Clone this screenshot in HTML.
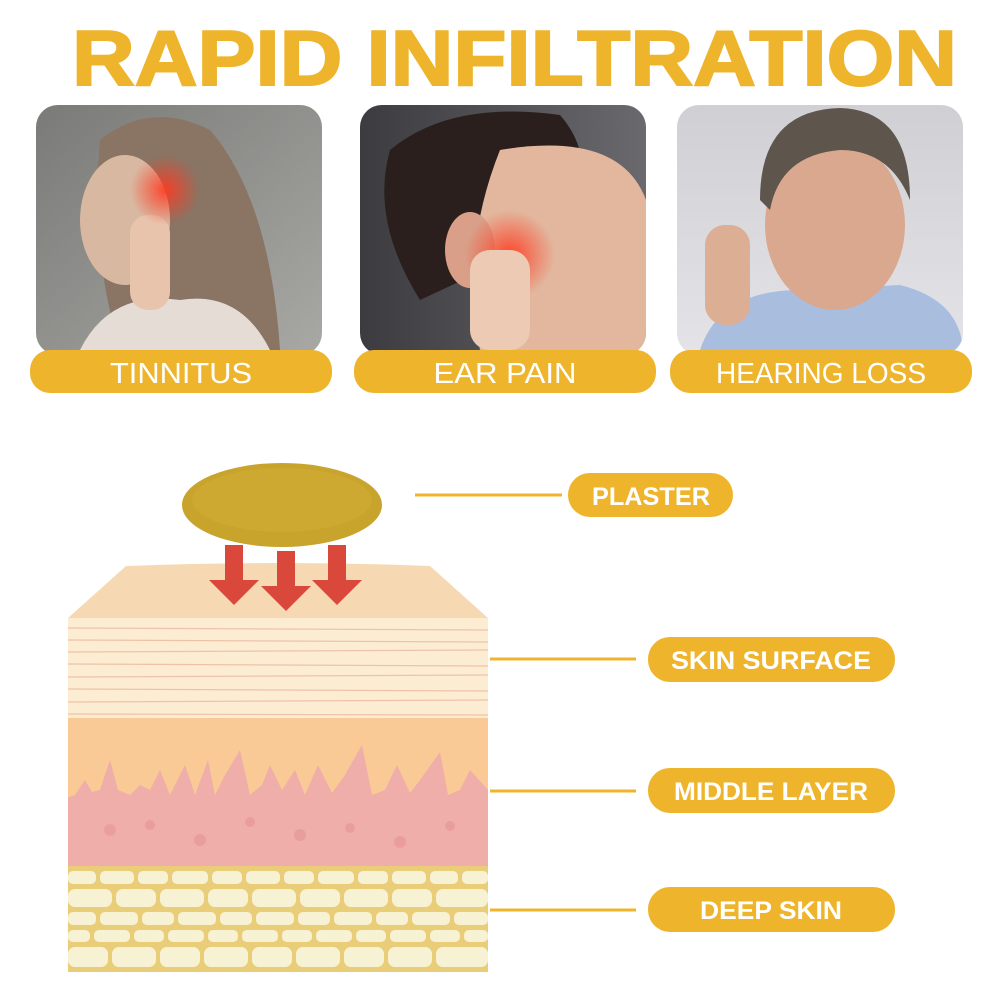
<!DOCTYPE html><html><head><style>body{margin:0;background:#fff}svg{display:block}</style></head><body>
<svg width="1002" height="1002" viewBox="0 0 1002 1002" xmlns="http://www.w3.org/2000/svg" font-family="Liberation Sans, sans-serif">
<defs>
<linearGradient id="g1" x1="0" y1="0" x2="1" y2="1"><stop offset="0" stop-color="#7a7a78"/><stop offset="1" stop-color="#a8a8a4"/></linearGradient>
<linearGradient id="g2" x1="0" y1="0" x2="1" y2="0"><stop offset="0" stop-color="#3c3c40"/><stop offset="1" stop-color="#6a6a6e"/></linearGradient>
<linearGradient id="g3" x1="0" y1="0" x2="0" y2="1"><stop offset="0" stop-color="#cfcfd4"/><stop offset="1" stop-color="#e4e4e8"/></linearGradient>
<radialGradient id="red"><stop offset="0" stop-color="#ff3a20" stop-opacity=".9"/><stop offset="1" stop-color="#ff3a20" stop-opacity="0"/></radialGradient>
<clipPath id="c1"><rect x="36" y="105" width="286" height="250" rx="22"/></clipPath>
<clipPath id="c2"><rect x="360" y="105" width="286" height="250" rx="22"/></clipPath>
<clipPath id="c3"><rect x="677" y="105" width="286" height="250" rx="22"/></clipPath>
<clipPath id="blk"><path d="M126 566 Q280 560 430 566 L488 618 L488 972 L68 972 L68 618 Z"/></clipPath>
</defs>
<text x="72" y="85" font-size="78" font-weight="bold" fill="#eeb52c" stroke="#eeb52c" stroke-width="2" textLength="885" lengthAdjust="spacingAndGlyphs">RAPID INFILTRATION</text>
<g clip-path="url(#c1)">
<rect x="36" y="105" width="286" height="250" fill="url(#g1)"/>
<path d="M100 140 Q150 100 210 130 Q270 200 280 350 L120 350 Q90 250 100 140Z" fill="#8a7464"/>
<ellipse cx="125" cy="220" rx="45" ry="65" fill="#d9b8a2"/>
<path d="M80 350 Q110 290 180 300 Q240 290 270 350Z" fill="#e6dcd6"/>
<rect x="130" y="215" width="40" height="95" rx="18" fill="#e8c4ac"/>
<circle cx="165" cy="190" r="35" fill="url(#red)"/>
</g>
<g clip-path="url(#c2)">
<rect x="360" y="105" width="286" height="250" fill="url(#g2)"/>
<path d="M390 150 Q450 100 560 115 Q600 160 570 230 L420 300 Q370 220 390 150Z" fill="#2a1f1c"/>
<path d="M500 150 Q620 130 646 200 L646 350 L480 350 Q460 250 500 150Z" fill="#e2b79e"/>
<ellipse cx="470" cy="250" rx="25" ry="38" fill="#d99f88"/>
<circle cx="510" cy="255" r="45" fill="url(#red)"/>
<rect x="470" y="250" width="60" height="100" rx="20" fill="#eccab4"/>
</g>
<g clip-path="url(#c3)">
<rect x="677" y="105" width="286" height="250" fill="url(#g3)"/>
<path d="M700 350 Q720 290 800 290 L900 285 Q960 300 963 350Z" fill="#a9bddf"/>
<ellipse cx="835" cy="225" rx="70" ry="85" fill="#d9a88e"/>
<path d="M760 200 Q760 110 840 108 Q910 110 910 200 Q890 150 840 150 Q780 155 770 210Z" fill="#5e554c"/>
<rect x="705" y="225" width="45" height="100" rx="20" fill="#dcae94"/>
</g>
<g fill="#eeb52c">
<rect x="30" y="350" width="302" height="43" rx="20"/>
<rect x="354" y="350" width="302" height="43" rx="20"/>
<rect x="670" y="350" width="302" height="43" rx="20"/>
</g>
<g fill="#fff" font-size="29" text-anchor="middle">
<text x="181" y="383" textLength="142" lengthAdjust="spacingAndGlyphs">TINNITUS</text>
<text x="505" y="383" textLength="143" lengthAdjust="spacingAndGlyphs">EAR PAIN</text>
<text x="821" y="383" textLength="210" lengthAdjust="spacingAndGlyphs">HEARING LOSS</text>
</g>
<g clip-path="url(#blk)">
<rect x="60" y="560" width="440" height="60" fill="#f6d9b2"/>
<rect x="60" y="618" width="440" height="102" fill="#fcecd2"/>
<g stroke="#eec2a8" stroke-width="1.2">
<line x1="68" y1="628" x2="488" y2="630"/><line x1="68" y1="640" x2="488" y2="642"/><line x1="68" y1="652" x2="488" y2="650"/><line x1="68" y1="664" x2="488" y2="666"/><line x1="68" y1="677" x2="488" y2="675"/><line x1="68" y1="689" x2="488" y2="691"/><line x1="68" y1="702" x2="488" y2="700"/><line x1="68" y1="714" x2="488" y2="715"/>
</g>
<rect x="60" y="718" width="440" height="100" fill="#f9c996"/>
<path d="M60 800 L75 795 L85 780 L92 792 L100 790 L110 760 L118 790 L130 795 L140 785 L150 790 L160 770 L170 795 L185 765 L195 795 L208 760 L215 795 L225 775 L240 750 L250 795 L262 785 L270 765 L282 790 L295 770 L305 795 L318 765 L332 793 L345 775 L362 745 L372 795 L385 790 L397 765 L410 793 L420 780 L440 752 L448 795 L460 790 L470 770 L488 790 L500 790 L500 870 L60 870Z" fill="#efaeaa"/>
<g fill="#e58f92" opacity=".5"><circle cx="110" cy="830" r="6"/><circle cx="150" cy="825" r="5"/><circle cx="200" cy="840" r="6"/><circle cx="250" cy="822" r="5"/><circle cx="300" cy="835" r="6"/><circle cx="350" cy="828" r="5"/><circle cx="400" cy="842" r="6"/><circle cx="450" cy="826" r="5"/></g>
<rect x="60" y="866" width="440" height="110" fill="#e9cd79"/>
<g fill="#f8f2d4">
<rect x="68" y="871" width="28" height="13" rx="5"/><rect x="100" y="871" width="34" height="13" rx="5"/><rect x="138" y="871" width="30" height="13" rx="5"/><rect x="172" y="871" width="36" height="13" rx="5"/><rect x="212" y="871" width="30" height="13" rx="5"/><rect x="246" y="871" width="34" height="13" rx="5"/><rect x="284" y="871" width="30" height="13" rx="5"/><rect x="318" y="871" width="36" height="13" rx="5"/><rect x="358" y="871" width="30" height="13" rx="5"/><rect x="392" y="871" width="34" height="13" rx="5"/><rect x="430" y="871" width="28" height="13" rx="5"/><rect x="462" y="871" width="26" height="13" rx="5"/>
<rect x="68" y="889" width="44" height="18" rx="7"/><rect x="116" y="889" width="40" height="18" rx="7"/><rect x="160" y="889" width="44" height="18" rx="7"/><rect x="208" y="889" width="40" height="18" rx="7"/><rect x="252" y="889" width="44" height="18" rx="7"/><rect x="300" y="889" width="40" height="18" rx="7"/><rect x="344" y="889" width="44" height="18" rx="7"/><rect x="392" y="889" width="40" height="18" rx="7"/><rect x="436" y="889" width="52" height="18" rx="7"/>
<rect x="68" y="912" width="28" height="13" rx="5"/><rect x="100" y="912" width="38" height="13" rx="5"/><rect x="142" y="912" width="32" height="13" rx="5"/><rect x="178" y="912" width="38" height="13" rx="5"/><rect x="220" y="912" width="32" height="13" rx="5"/><rect x="256" y="912" width="38" height="13" rx="5"/><rect x="298" y="912" width="32" height="13" rx="5"/><rect x="334" y="912" width="38" height="13" rx="5"/><rect x="376" y="912" width="32" height="13" rx="5"/><rect x="412" y="912" width="38" height="13" rx="5"/><rect x="454" y="912" width="34" height="13" rx="5"/>
<rect x="68" y="930" width="22" height="12" rx="5"/><rect x="94" y="930" width="36" height="12" rx="5"/><rect x="134" y="930" width="30" height="12" rx="5"/><rect x="168" y="930" width="36" height="12" rx="5"/><rect x="208" y="930" width="30" height="12" rx="5"/><rect x="242" y="930" width="36" height="12" rx="5"/><rect x="282" y="930" width="30" height="12" rx="5"/><rect x="316" y="930" width="36" height="12" rx="5"/><rect x="356" y="930" width="30" height="12" rx="5"/><rect x="390" y="930" width="36" height="12" rx="5"/><rect x="430" y="930" width="30" height="12" rx="5"/><rect x="464" y="930" width="24" height="12" rx="5"/>
<rect x="68" y="947" width="40" height="20" rx="7"/><rect x="112" y="947" width="44" height="20" rx="7"/><rect x="160" y="947" width="40" height="20" rx="7"/><rect x="204" y="947" width="44" height="20" rx="7"/><rect x="252" y="947" width="40" height="20" rx="7"/><rect x="296" y="947" width="44" height="20" rx="7"/><rect x="344" y="947" width="40" height="20" rx="7"/><rect x="388" y="947" width="44" height="20" rx="7"/><rect x="436" y="947" width="52" height="20" rx="7"/>
</g>
</g>
<ellipse cx="282" cy="505" rx="100" ry="42" fill="#c9a42c"/>
<ellipse cx="282" cy="500" rx="90" ry="32" fill="#d2ae38" opacity=".5"/>
<g fill="#d9483a">
<path d="M225 545 h18 v35 h16 l-25 25 l-25 -25 h16z"/>
<path d="M277 551 h18 v35 h16 l-25 25 l-25 -25 h16z"/>
<path d="M328 545 h18 v35 h16 l-25 25 l-25 -25 h16z"/>
</g>
<g stroke="#eeb52c" stroke-width="3">
<line x1="415" y1="495" x2="562" y2="495"/>
<line x1="490" y1="659" x2="636" y2="659"/>
<line x1="490" y1="791" x2="636" y2="791"/>
<line x1="490" y1="910" x2="636" y2="910"/>
</g>
<g fill="#eeb52c">
<rect x="568" y="473" width="165" height="44" rx="22"/>
<rect x="648" y="637" width="247" height="45" rx="22"/>
<rect x="648" y="768" width="247" height="45" rx="22"/>
<rect x="648" y="887" width="247" height="45" rx="22"/>
</g>
<g fill="#fff" font-size="25" font-weight="bold" text-anchor="middle">
<text x="651" y="505" textLength="118" lengthAdjust="spacingAndGlyphs">PLASTER</text>
<text x="771" y="669" textLength="200" lengthAdjust="spacingAndGlyphs">SKIN SURFACE</text>
<text x="771" y="800" textLength="194" lengthAdjust="spacingAndGlyphs">MIDDLE LAYER</text>
<text x="771" y="919" textLength="142" lengthAdjust="spacingAndGlyphs">DEEP SKIN</text>
</g>
</svg>
</body></html>
